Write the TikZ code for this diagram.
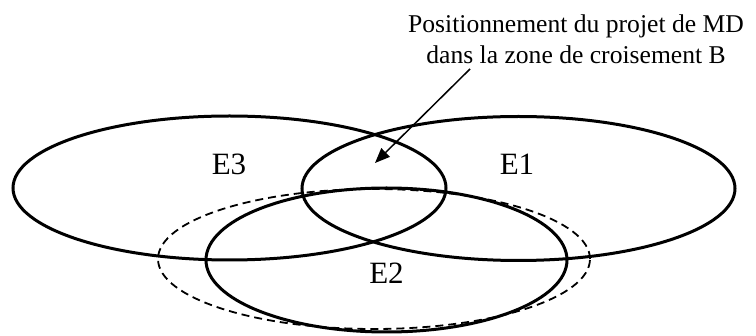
\documentclass[tikz,border=0pt]{standalone}
\usepackage{fontspec}
\setmainfont{Liberation Serif}
\usetikzlibrary{shapes.geometric,arrows.meta}
\tikzset{
  setell/.style={draw, ellipse, inner sep=0pt, line width=1.5pt},
  dashell/.style={draw, ellipse, inner sep=0pt, line width=0.9pt, dash pattern=on 4pt off 2.5pt},
  lbl/.style={font=\fontsize{15.5}{18}\selectfont, inner sep=0pt, anchor=base},
  hdr/.style={font=\fontsize{12.8}{15.5}\selectfont, align=center, inner sep=0pt, anchor=north},
  pointer/.style={line width=0.75pt, -{Triangle[length=7.5pt,width=6pt]}}
}
\begin{document}
\begin{tikzpicture}[x=0.5pt,y=-0.5pt]
\useasboundingbox (0,0) rectangle (756,336);
\node[dashell, minimum width=216pt, minimum height=70pt] (dash) at (374,259) {};
\node[setell, minimum width=216.5pt, minimum height=72pt] (e3) at (229.5,188) {};
\node[setell, minimum width=216.5pt, minimum height=72pt] (e1) at (518.5,188.5) {};
\node[setell, minimum width=180.5pt, minimum height=72pt] (e2) at (386.5,260) {};
\node[lbl] (t3) at (229,175) {E3};
\node[lbl] (t1) at (517,175) {E1};
\node[lbl] (t2) at (386.5,284) {E2};
\node[hdr] (note) at (576,14.5) {Positionnement du projet de MD\\dans la zone de croisement B};
\coordinate (from) at (470,69);
\coordinate (tip) at (375,163);
\draw[pointer] (from) -- (tip);
\end{tikzpicture}
\end{document}
